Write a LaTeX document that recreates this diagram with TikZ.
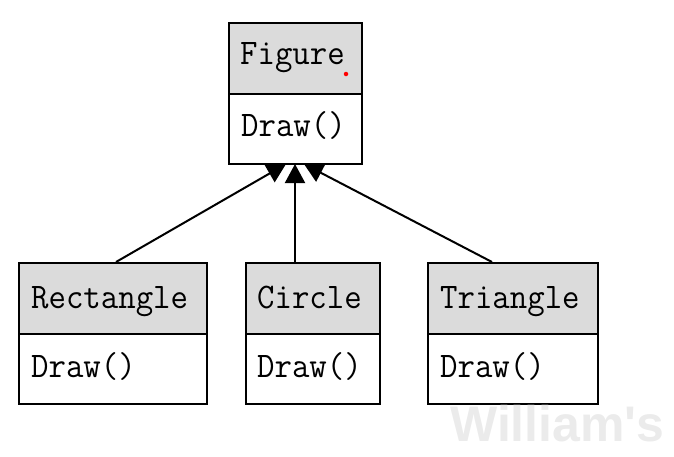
\documentclass[tikz,border=0pt]{standalone}
\usepackage{fontspec}
\newfontfamily\clsfont[FakeStretch=0.94]{Latin Modern Mono}
\newfontfamily\wmfont{Liberation Sans}
\usetikzlibrary{arrows.meta}
\tikzset{
  hdr/.style={draw=black, line width=2pt, fill=black!14, anchor=north west, inner sep=0pt},
  bdy/.style={draw=black, line width=2pt, fill=white, anchor=north west, inner sep=0pt},
  lbl/.style={anchor=base west, inner sep=0pt, font=\clsfont\fontsize{36}{40}\selectfont},
  inh/.style={line width=2pt, -{Triangle[length=19pt,width=20pt]}},
}
\begin{document}
\begin{tikzpicture}[x=1pt,y=-1pt]
\useasboundingbox (0,0) rectangle (674,456);
% Figure
\node[hdr, minimum width=133pt, minimum height=71pt] (figH) at (228,22) {};
\node[bdy, minimum width=133pt, minimum height=70pt] (figB) at (228,93) {};
\node[lbl] (figT) at (240,64) {Figure};
\node[lbl] (figM) at (241,136) {Draw()};
\node[circle, fill=red, inner sep=0pt, minimum size=4.5pt] (dot) at (346,74) {};
% Rectangle
\node[hdr, minimum width=188pt, minimum height=71pt] (recH) at (18,262) {};
\node[bdy, minimum width=188pt, minimum height=70pt] (recB) at (18,333) {};
\node[lbl] (recT) at (31,308) {Rectangle};
\node[lbl] (recM) at (31,377) {Draw()};
% Circle
\node[hdr, minimum width=134pt, minimum height=71pt] (cirH) at (245,262) {};
\node[bdy, minimum width=134pt, minimum height=70pt] (cirB) at (245,333) {};
\node[lbl] (cirT) at (257,308) {Circle};
\node[lbl] (cirM) at (257,377) {Draw()};
% Triangle
\node[hdr, minimum width=170pt, minimum height=71pt] (triH) at (427,262) {};
\node[bdy, minimum width=170pt, minimum height=70pt] (triB) at (427,333) {};
\node[lbl] (triT) at (440,308) {Triangle};
\node[lbl] (triM) at (440,377) {Draw()};
% connector end points
\coordinate (tipL) at (286,164);
\coordinate (tipC) at (295,164);
\coordinate (tipR) at (304,164);
\coordinate (srcL) at (116,262);
\coordinate (srcC) at (295,262);
\coordinate (srcR) at (492,262);
\draw[inh] (srcL) -- (tipL);
\draw[inh] (srcR) -- (tipR);
\draw[inh] (srcC) -- (tipC);
% watermark
\node[anchor=base west, inner sep=0pt, text=black!8, font=\wmfont\bfseries\fontsize{50}{55}\selectfont] (wm) at (450,441) {William's};
\end{tikzpicture}
\end{document}
